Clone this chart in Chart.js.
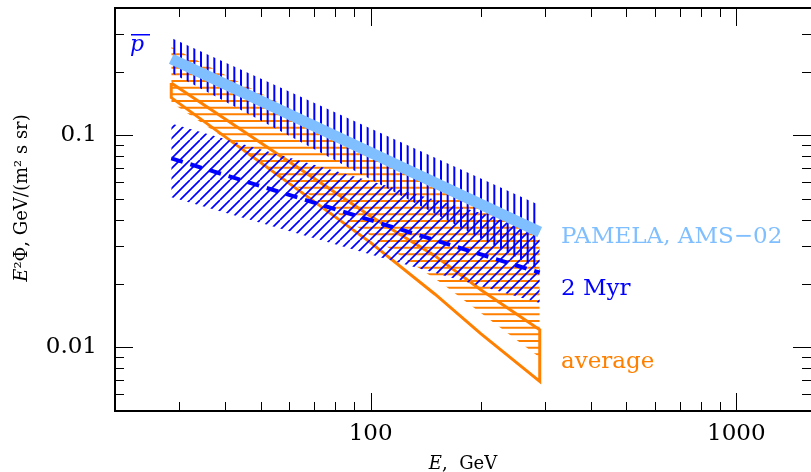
<!DOCTYPE html>
<html>
<head>
<meta charset="utf-8">
<script src="https://cdn.jsdelivr.net/npm/chart.js@4.4.1/dist/chart.umd.min.js"></script>
<style>
  html, body { margin: 0; padding: 0; background: #fff; }
  canvas { display: block; }
</style>
</head>
<body>
<canvas id="spectrum" width="811" height="472"></canvas>
<script>
// E (GeV) and E^2 * flux values
const pamE = [28.5, 290];
const pamFlux = [0.230, 0.0350];
const pamBandE = [28.5, 290];
const pamUpper = [0.289, 0.0469];
const pamLower = [0.198, 0.0232];

const myrE = [28.5, 290];
const myrFlux = [0.078, 0.0225];
const myrUpper = [0.114, 0.0358];
const myrLower = [0.0511, 0.0162];

// hatched "average" region
const avgTopE = [28.5, 290];
const avgTop = [0.262, 0.0328];
const avgBottomE = [28.5, 156, 290];
const avgBottom = [0.143, 0.0201, 0.00895];

// outlined "average" band
const avgLineE = [28.5, 100, 150, 200, 290];
const avgLineHigh = [0.177, 0.0416, 0.0270, 0.0187, 0.0121];
const avgLineLow = [0.151, 0.0312, 0.0178, 0.0116, 0.0069];

const xTicks = [20, 30, 40, 50, 60, 70, 80, 90, 100, 200, 300, 400, 500, 600, 700, 800, 900, 1000];
const xLabels = [100, 1000];
const yTicks = [0.006, 0.007, 0.008, 0.009, 0.01, 0.02, 0.03, 0.04, 0.05, 0.06, 0.07, 0.08, 0.09, 0.1, 0.2, 0.3];
const yLabels = [0.01, 0.1];

const lightBlue = '#80bfff';
const blue = '#0000ff';
const orange = '#ff8000';
const serif = '"DejaVu Serif", serif';

// hatch patterns: v = vertical, h = horizontal, d = diagonal
function hatch(color, kind) {
  const c = document.createElement('canvas');
  c.width = c.height = 20;
  const g = c.getContext('2d');
  g.strokeStyle = color;
  g.lineWidth = kind === 'd' ? 1.7 : 2;
  g.beginPath();
  for (let k = -3; k <= 6; k++) {
    const s = k * 20 / 3;
    if (kind === 'v') { g.moveTo(s + 1, 0); g.lineTo(s + 1, 20); }
    if (kind === 'h') { g.moveTo(0, s + 1); g.lineTo(20, s + 1); }
    if (kind === 'd') { const q = k * 10; g.moveTo(q, 20); g.lineTo(q + 20, 0); }
  }
  g.stroke();
  return g.createPattern(c, 'repeat');
}

const pts = (xs, ys) => xs.map((x, i) => ({ x: x, y: ys[i] }));

const outline = pts(avgLineE, avgLineHigh).concat(pts(avgLineE, avgLineLow).reverse());
outline.push(outline[0]);

const decor = {
  id: 'decor',
  afterDraw(chart) {
    const { ctx, chartArea: a, scales: { x, y } } = chart;
    ctx.save();

    // inward ticks on all four sides
    ctx.strokeStyle = '#000';
    ctx.lineWidth = 1;
    ctx.beginPath();
    x.ticks.forEach(t => {
      const px = Math.round(x.getPixelForValue(t.value)) + 0.5;
      const len = xLabels.includes(t.value) ? 18 : 9;
      ctx.moveTo(px, a.bottom); ctx.lineTo(px, a.bottom - len);
      ctx.moveTo(px, a.top); ctx.lineTo(px, a.top + len);
    });
    y.ticks.forEach(t => {
      const py = Math.round(y.getPixelForValue(t.value)) + 0.5;
      const len = yLabels.includes(t.value) ? 18 : 9;
      ctx.moveTo(a.left, py); ctx.lineTo(a.left + len, py);
      ctx.moveTo(a.right, py); ctx.lineTo(a.right - len, py);
    });
    ctx.stroke();

    // frame
    ctx.lineWidth = 2;
    ctx.beginPath();
    ctx.moveTo(a.right + 2, a.top);
    ctx.lineTo(a.left, a.top);
    ctx.lineTo(a.left, a.bottom);
    ctx.lineTo(a.right + 2, a.bottom);
    ctx.stroke();

    // p-bar
    ctx.fillStyle = blue;
    ctx.font = 'italic 22px ' + serif;
    ctx.textBaseline = 'alphabetic';
    ctx.fillText('p', 130, 51);
    ctx.fillRect(131, 34, 19, 1.5);

    // curve labels
    ctx.font = '23px ' + serif;
    ctx.fillStyle = lightBlue;
    ctx.fillText('PAMELA, AMS\u221202', 561, 243);
    ctx.fillStyle = blue;
    ctx.fillText('2 Myr', 561, 295);
    ctx.fillStyle = orange;
    ctx.fillText('average', 561, 368);

    // axis titles
    ctx.fillStyle = '#000';
    const mixed = (parts, cx, cy) => {
      let w = 0;
      parts.forEach(p => { ctx.font = p[1] + ' 18px ' + serif; w += ctx.measureText(p[0]).width; });
      let sx = cx - w / 2;
      parts.forEach(p => {
        ctx.font = p[1] + ' 18px ' + serif;
        ctx.fillText(p[0], sx, cy);
        sx += ctx.measureText(p[0]).width;
      });
    };
    mixed([['E', 'italic'], [',  GeV', 'normal']], (a.left + a.right) / 2, 469);
    ctx.save();
    ctx.translate(27, 198);
    ctx.rotate(-Math.PI / 2);
    mixed([['E', 'italic'], ['\u00b2\u03a6, GeV/(m\u00b2 s sr)', 'normal']], 0, 0);
    ctx.restore();

    ctx.restore();
  }
};

const tickFont = { family: 'DejaVu Serif', size: 23 };
const noPad = s => { s.paddingTop = 0; s.paddingBottom = 0; s.paddingLeft = 0; s.paddingRight = 0; };

new Chart(document.getElementById('spectrum').getContext('2d'), {
  type: 'line',
  data: {
    datasets: [
      { data: pts(pamE, pamFlux), borderColor: lightBlue, borderWidth: 11, fill: false, order: 0 },
      { data: pts(pamBandE, pamUpper), borderWidth: 0, fill: '+1', backgroundColor: hatch(blue, 'v'), order: 1 },
      { data: pts(pamBandE, pamLower), borderWidth: 0, fill: false, order: 1 },
      { data: pts(myrE, myrFlux), borderColor: blue, borderWidth: 4, borderDash: [12, 8], fill: false, order: 2 },
      { data: pts(myrE, myrUpper), borderWidth: 0, fill: '+1', backgroundColor: hatch(blue, 'd'), order: 3 },
      { data: pts(myrE, myrLower), borderWidth: 0, fill: false, order: 3 },
      { data: outline, borderColor: orange, borderWidth: 3, fill: false, order: 4 },
      { data: pts(avgTopE, avgTop), borderWidth: 0, fill: '+1', backgroundColor: hatch(orange, 'h'), order: 5 },
      { data: pts(avgBottomE, avgBottom), borderWidth: 0, fill: false, order: 5 }
    ]
  },
  options: {
    responsive: false,
    animation: false,
    events: [],
    layout: { padding: { top: 8, right: 0, bottom: 0, left: 0 } },
    elements: { point: { radius: 0 } },
    scales: {
      x: {
        type: 'logarithmic',
        min: 20,
        max: 1600,
        grid: { display: false, drawTicks: false },
        border: { display: false },
        afterBuildTicks: s => { s.ticks = xTicks.map(v => ({ value: v })); },
        afterFit: s => { s.height = 61; noPad(s); },
        ticks: {
          autoSkip: false,
          maxRotation: 0,
          padding: 9,
          color: '#000',
          font: tickFont,
          callback: v => xLabels.includes(v) ? String(v) : ''
        }
      },
      y: {
        type: 'logarithmic',
        min: 0.005,
        max: 0.4,
        grid: { display: false, drawTicks: false },
        border: { display: false },
        afterBuildTicks: s => { s.ticks = yTicks.map(v => ({ value: v })); },
        afterFit: s => { s.width = 115; noPad(s); },
        ticks: {
          autoSkip: false,
          padding: 18,
          color: '#000',
          font: tickFont,
          callback: v => yLabels.includes(v) ? String(v) : ''
        }
      }
    },
    plugins: {
      legend: { display: false },
      tooltip: { enabled: false }
    }
  },
  plugins: [decor]
});
</script>
</body>
</html>
